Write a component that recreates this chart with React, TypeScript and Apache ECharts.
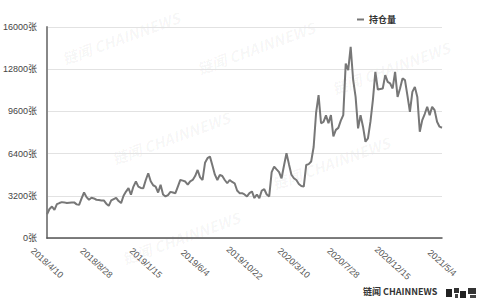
import React, { useEffect, useRef } from "react";
import * as echarts from "echarts";

const startDate = [2018, 4, 10];
const weekCount = 161;

const holdings: number[] = [
  1800, 2200, 2390, 2140, 2570, 2650, 2720, 2700, 2650, 2680,
  2700, 2700, 2550, 2520, 3000, 3450, 3100, 2900, 3050, 3000,
  2900, 2880, 2850, 2850, 2600, 2440, 2850, 2950, 3050, 2800,
  2650, 3200, 3520, 3780, 3280, 3900, 4280, 3900, 3800, 3780,
  4400, 4910, 4300, 4000, 3900, 3450, 4030, 3300, 3150, 3250,
  3500, 3450, 3400, 3900, 4400, 4350, 4280, 4050, 4300, 4400,
  4700, 5160, 4600, 4400, 5700, 6050, 6170, 5500, 4800, 4400,
  4790, 4700, 4400, 4150, 4400, 4250, 4150, 3600, 3400, 3400,
  3300, 3150, 3400, 3530, 3030, 3300, 3020, 3600, 3700, 3300,
  3150, 5000, 5410, 5200, 5000, 4530, 5500, 6430, 5600, 4800,
  4530, 4400, 4100, 3950, 3900, 5540, 5600, 5800, 6900, 9500,
  10830, 8700, 8800, 9300, 8700, 9320, 7700, 8200, 8350, 8900,
  9320, 13230, 12730, 14490, 12000, 10700, 8310, 9320, 8440, 7300,
  7550, 8800, 10450, 12600, 11260, 11300, 11340, 12350, 11840, 11720,
  11340, 12600, 10700, 11340, 12100, 11970, 10800, 9570, 11080, 11460,
  10700, 8060, 8940, 9400, 9950, 9320, 9950, 9700, 8810, 8440,
  8360,
];

const seriesName = "持仓量";
const yMax = 16000;
const yInterval = 3200;

function buildDates(): string[] {
  const out: string[] = [];
  const d = new Date(startDate[0], startDate[1] - 1, startDate[2], 12);
  for (let i = 0; i < weekCount; i++) {
    out.push(`${d.getFullYear()}/${d.getMonth() + 1}/${d.getDate()}`);
    d.setDate(d.getDate() + 7);
  }
  return out;
}

const watermarks: [number, number][] = [
  [60, 52], [195, 62], [110, 152], [330, 82], [270, 177], [120, 252],
];

export default function App() {
  const ref = useRef<HTMLDivElement>(null);
  useEffect(() => {
    if (!ref.current) return;
    const chart = echarts.init(ref.current, undefined, { renderer: "svg" });
    const dates = buildDates();
    const wm = watermarks.map(([x, y]) => ({
      type: "text",
      x,
      y,
      rotation: (20 * Math.PI) / 180,
      silent: true,
      z: -1,
      style: {
        text: "链闻 CHAINNEWS",
        fill: "rgba(0,0,0,0.045)",
        font: "italic bold 15px 'Noto Sans CJK SC', sans-serif",
      },
    }));
    chart.setOption({
      animation: false,
      backgroundColor: "#fff",
      textStyle: { fontFamily: "'Liberation Sans', 'Noto Sans CJK SC', sans-serif" },
      legend: {
        top: 10,
        left: 352,
        icon: "rect",
        itemWidth: 7,
        itemHeight: 2,
        itemGap: 6,
        textStyle: { fontSize: 9, fontWeight: "bold", color: "#333", fontFamily: "'Noto Sans CJK SC', sans-serif" },
        data: [seriesName],
      },
      grid: { left: 45, right: 38, top: 27, bottom: 62, containLabel: false },
      xAxis: {
        type: "category",
        data: dates,
        boundaryGap: false,
        axisLine: { lineStyle: { color: "#555", width: 1.5 } },
        axisTick: { show: false },
        axisLabel: {
          interval: 19,
          rotate: -42,
          align: "center",
          verticalAlign: "middle",
          margin: 25,
          fontSize: 9,
          color: "#555",
        },
        splitLine: { show: false },
      },
      yAxis: {
        type: "value",
        min: 0,
        max: yMax,
        interval: yInterval,
        axisLine: { show: true, lineStyle: { color: "#888", width: 2 } },
        axisTick: { show: false },
        axisLabel: { formatter: (v: number) => `${v}张`, fontSize: 9, color: "#444", margin: 10 },
        splitLine: { lineStyle: { color: "#e2e2e2" } },
      },
      series: [
        {
          name: seriesName,
          type: "line",
          data: holdings,
          showSymbol: false,
          symbol: "none",
          lineStyle: { color: "#777", width: 2 },
          itemStyle: { color: "#777" },
        },
      ],
      graphic: [
        ...wm,
        {
          type: "text",
          x: 363,
          y: 287,
          style: {
            text: "链闻 CHAINNEWS",
            fill: "#333",
            font: "bold 9px 'Noto Sans CJK SC', sans-serif",
          },
        },
        {
          type: "group",
          x: 446,
          y: 288,
          children: [
            { type: "rect", shape: { x: 0, y: 1, width: 6, height: 8 }, style: { fill: "#222" } },
            { type: "rect", shape: { x: 8, y: 0, width: 5, height: 5 }, style: { fill: "#333" } },
            { type: "rect", shape: { x: 14, y: 3, width: 6, height: 7 }, style: { fill: "#222" } },
            { type: "rect", shape: { x: 22, y: 0, width: 8, height: 6 }, style: { fill: "#333" } },
            { type: "rect", shape: { x: 9, y: 6, width: 3, height: 4 }, style: { fill: "#444" } },
            { type: "rect", shape: { x: 24, y: 7, width: 6, height: 3 }, style: { fill: "#444" } },
          ],
        },
      ],
    });
    return () => chart.dispose();
  }, []);
  return <div ref={ref} style={{ position: "fixed", left: 0, top: 0, width: 480, height: 300 }} />;
}
